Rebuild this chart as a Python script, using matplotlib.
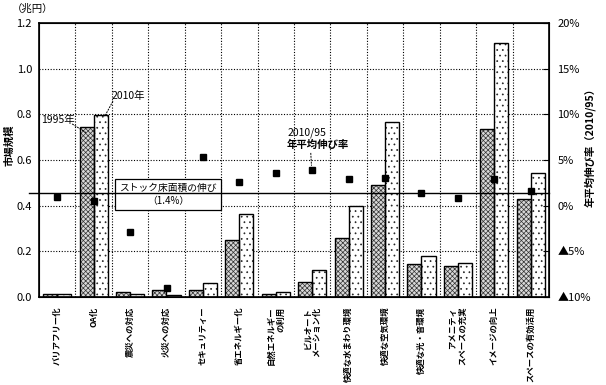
import matplotlib
matplotlib.use('Agg')
from matplotlib import pyplot as plt
import numpy as np

plt.rcParams['font.family'] = ['Noto Sans CJK JP', 'DejaVu Sans']
plt.rcParams['hatch.linewidth'] = 0.5

categories = ['バリアフリー化', 'OA化', '震災への対応', '火災への対応', 'セキュリティー',
              '省エネルギー化', '自然エネルギー\nの利用', 'ビルオート\nメーション化',
              '快適な水まわり環境', '快適な空気環境', '快適な光・音環境',
              'アメニティ\nスペースの充実', 'イメージの向上', 'スペースの有効活用']
market_1995 = [0.012, 0.745, 0.020, 0.030, 0.030, 0.250, 0.012, 0.064, 0.260, 0.490, 0.145, 0.136, 0.736, 0.428]
market_2010 = [0.012, 0.797, 0.012, 0.007, 0.060, 0.363, 0.020, 0.118, 0.398, 0.766, 0.180, 0.148, 1.111, 0.542]
growth = [0.94, 0.5, -2.85, -9.0, 5.35, 2.6, 3.6, 3.93, 2.94, 3.05, 1.4, 0.87, 2.87, 1.63]
stock_growth = 1.4
left_ticks = [0.0, 0.2, 0.4, 0.6, 0.8, 1.0, 1.2]
right_ticks = [-10, -5, 0, 5, 10, 15, 20]
right_labels = ['▲10%', '▲5%', '0%', '5%', '10%', '15%', '20%']

fig = plt.figure(figsize=(6.06, 3.85), dpi=100)
ax = fig.add_axes([39/606, 1 - 297/385, 510/606, 274/385])
x = np.arange(len(categories))
w = 0.385

# bars: 1995 crosshatch, 2010 dots
ax.bar(x - w/2, market_1995, w, color='#d8d8d8', hatch='xxxxxxx', edgecolor='#333333', linewidth=0, zorder=2)
ax.bar(x - w/2, market_1995, w, fill=False, edgecolor='black', linewidth=1.0, zorder=3)
ax.bar(x + w/2, market_2010, w, color='white', hatch='...', edgecolor='#222222', linewidth=0, zorder=2)
ax.bar(x + w/2, market_2010, w, fill=False, edgecolor='black', linewidth=1.0, zorder=3)

ax.set_xlim(-0.5, len(categories) - 0.5)
ax.set_ylim(0, 1.2)
ax.set_yticks(left_ticks)
ax.set_yticklabels(['%.1f' % v for v in left_ticks], fontsize=8)
ax.tick_params(axis='y', length=0, pad=5)
ax.set_xticks(x)
ax.set_xticklabels(categories, rotation=90, fontsize=6, fontweight='bold',
                   va='top', ha='center', multialignment='right', linespacing=1.1)
ax.tick_params(axis='x', length=0, pad=7)
for b in np.arange(0.5, len(categories) - 1, 1):
    ax.axvline(b, color='black', linestyle=(0, (1, 1.5)), linewidth=0.8, zorder=1)
for t in left_ticks[1:-1]:
    ax.axhline(t, color='black', linestyle=(0, (1, 1.5)), linewidth=0.8, zorder=1)
for s in ax.spines.values():
    s.set_linewidth(1.2)

ax2 = ax.twinx()
ax2.set_ylim(-10, 20)
ax2.set_yticks(right_ticks)
ax2.set_yticklabels(right_labels, fontsize=8)
ax2.tick_params(axis='y', direction='in', length=4, pad=6)
ax2.plot(x, growth, 's', color='black', markersize=5, zorder=5)
ax2.plot([-0.02, 1.0], [stock_growth, stock_growth], color='black', linewidth=1.0,
         transform=ax2.get_yaxis_transform(), clip_on=False, zorder=4)

# annotations
ax.text(0.01, 0.775, '1995年', fontsize=7.5, ha='center', va='center')
ax.plot([0.41, 0.79], [0.758, 0.72], color='black', linestyle=(0, (2, 1)), linewidth=0.7, zorder=6)
ax.text(1.94, 0.88, '2010年', fontsize=7.5, ha='center', va='center')
ax.plot([1.53, 1.3], [0.858, 0.79], color='black', linestyle=(0, (2, 1)), linewidth=0.7, zorder=6)
ax.text(6.31, 0.718, '2010/95', fontsize=7.5, ha='left', va='center')
ax.text(6.31, 0.666, '年平均伸び率', fontsize=7.5, fontweight='bold', ha='left', va='center')
ax.plot([6.96, 6.98], [0.631, 0.575], color='black', linestyle=(0, (2, 1)), linewidth=0.7, zorder=6)
ax.text(3.04, 0.449, 'ストック床面積の伸び\n（1.4%）', fontsize=7, style='italic',
        ha='center', va='center', linespacing=1.4, zorder=7,
        bbox=dict(boxstyle='square,pad=0.4', facecolor='white', edgecolor='black', linewidth=0.9))

fig.text(12/606, 1 - 9/385, '（兆円）', fontsize=7.5, ha='left', va='center')
fig.text(9/606, 1 - 145/385, '市場規模', fontsize=7.5, fontweight='bold', rotation=90, ha='center', va='center')
fig.text(590/606, 1 - 145/385, '年平均伸び率（2010/95）', fontsize=7.5, fontweight='bold',
         rotation=90, ha='center', va='center')

fig.savefig('out.png', dpi=100)
